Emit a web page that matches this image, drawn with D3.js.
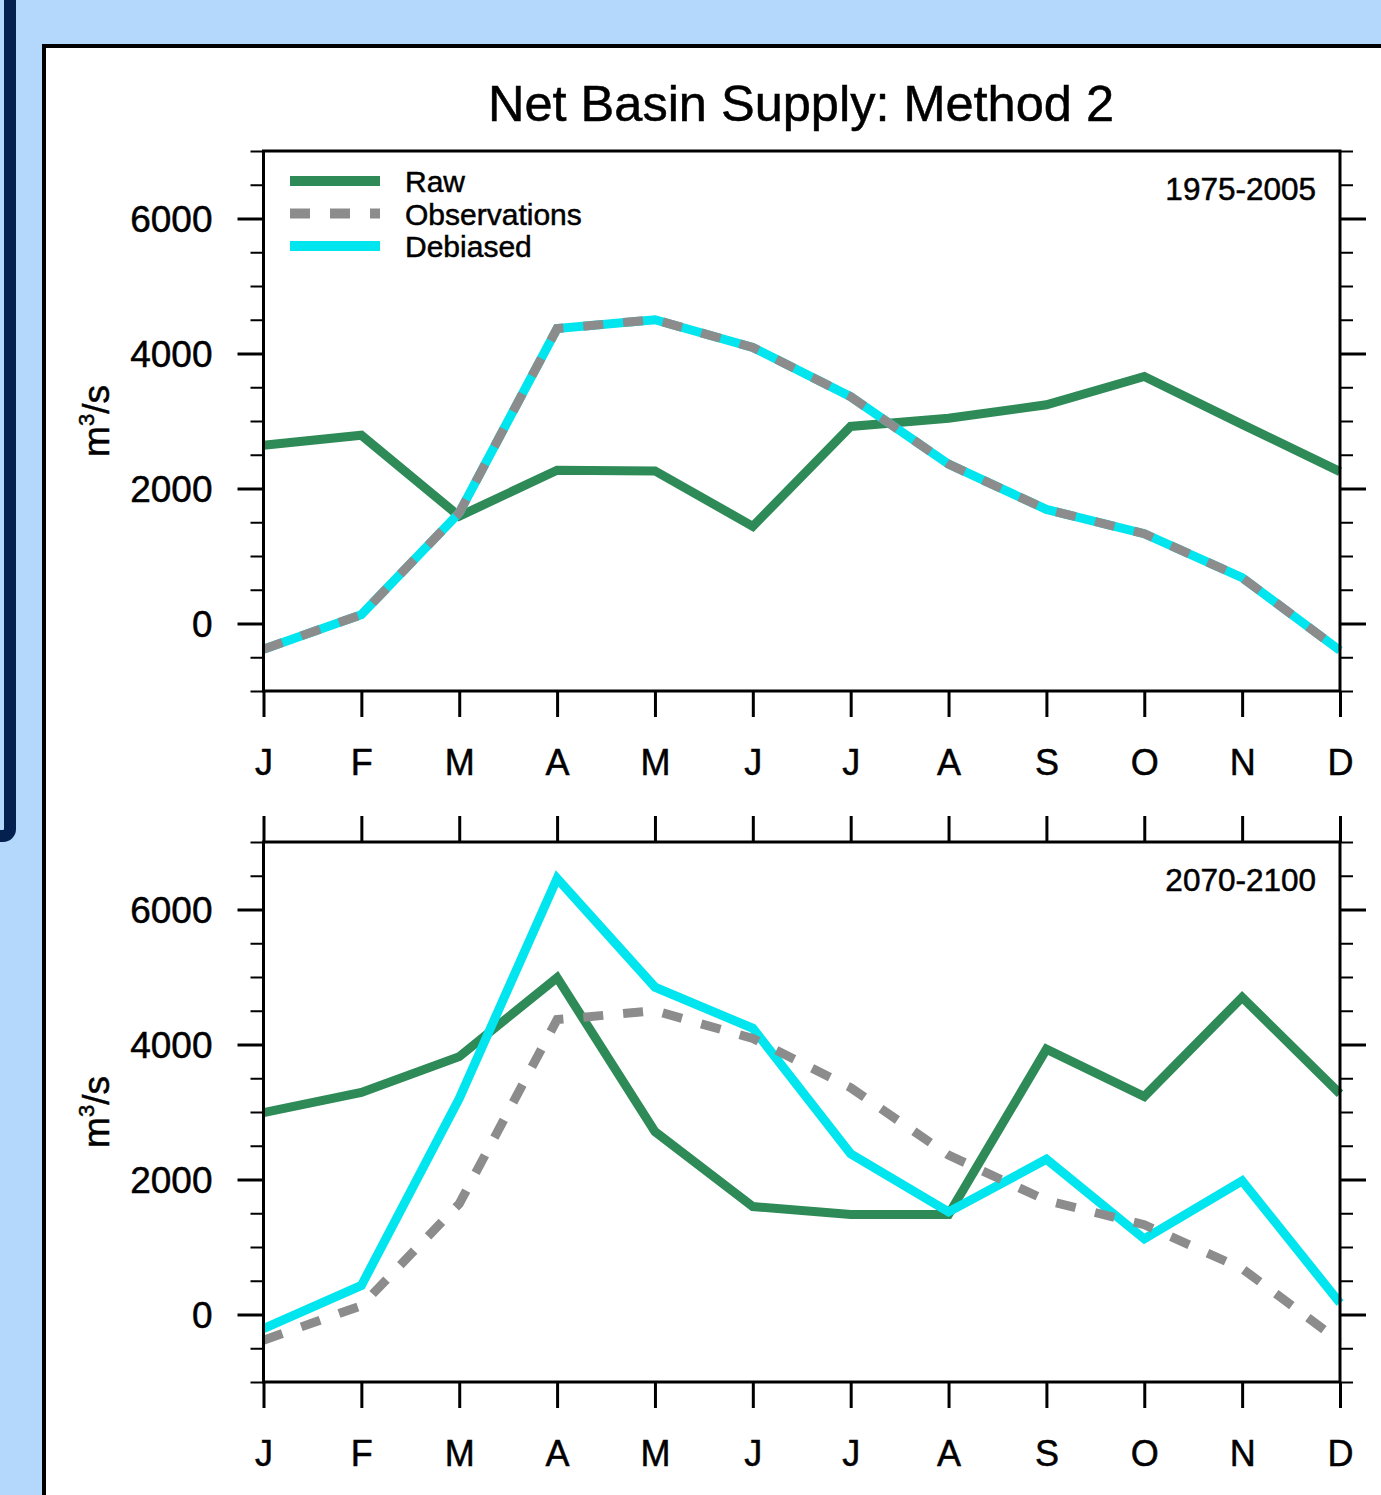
<!DOCTYPE html>
<html>
<head>
<meta charset="utf-8">
<script src="https://cdn.jsdelivr.net/npm/d3@7"></script>
<style>
  html, body { margin: 0; padding: 0; background: #b4d8fb; }
  svg { display: block; }
  text { font-family: "Liberation Sans", Arial, Helvetica, sans-serif; fill: #000; stroke: #000; stroke-width: 0.5px; }
</style>
</head>
<body>
<script>
// Monthly net basin supply (m^3/s), January..December
const months = ["J", "F", "M", "A", "M", "J", "J", "A", "S", "O", "N", "D"];

const observations = [-380, 130, 1640, 4370, 4500, 4090, 3360, 2360, 1690, 1330, 680, -400];

const rawHist      = [2640, 2790, 1590, 2270, 2260, 1440, 2920, 3040, 3240, 3660, 2950, 2250];
const debiasedHist = [-380, 130, 1640, 4370, 4500, 4090, 3360, 2360, 1690, 1330, 680, -400];

const rawFuture      = [2990, 3290, 3820, 4990, 2710, 1600, 1480, 1480, 3930, 3230, 4700, 3270];
const debiasedFuture = [-210, 430, 3200, 6460, 4850, 4240, 2380, 1520, 2300, 1120, 1980, 170];

const periods = ["1975-2005", "2070-2100"];
const seriesNames = ["Raw", "Observations", "Debiased"];
const yDomain = [-1000, 7000];
const yMajorTicks = [0, 2000, 4000, 6000];
const yMinorTicks = d3.range(-1000, 7001, 500).filter(v => !yMajorTicks.includes(v));

const colors = { Raw: "#2e8b57", Observations: "#8c8c8c", Debiased: "#00e5ee" };

const W = 1381, H = 1495;
const svg = d3.select("body").append("svg").attr("width", W).attr("height", H);

// page background and window frames
svg.append("rect").attr("width", W).attr("height", H).attr("fill", "#b4d8fb");
svg.append("rect")
  .attr("x", -100).attr("y", -100).attr("width", 110).attr("height", 936).attr("rx", 7)
  .attr("fill", "none").attr("stroke", "#04204f").attr("stroke-width", 12);
svg.append("rect")
  .attr("x", 44).attr("y", 46).attr("width", 1500).attr("height", 1600)
  .attr("fill", "#fff").attr("stroke", "#000").attr("stroke-width", 4);

// title
svg.append("text")
  .attr("x", 801).attr("y", 121)
  .attr("text-anchor", "middle")
  .attr("font-size", 50.5)
  .text("Net Basin Supply: Method 2");

const plotLeft = 263.5, plotRight = 1340, plotH = 540;
const x = d3.scaleLinear().domain([0, months.length - 1]).range([plotLeft, plotRight]);
const idx = d3.range(months.length);

function drawPanel(top, raw, debiased, obs, period, withTopTicks, withLegend) {
  const y = d3.scaleLinear().domain(yDomain).range([top + plotH, top]);
  const g = svg.append("g");

  function styleAxis(sel, w) {
    sel.select(".domain").remove();
    sel.selectAll(".tick line").attr("stroke", "#000").attr("stroke-width", w);
  }
  function styleLabels(sel, size) {
    sel.selectAll("text").attr("font-size", size).attr("fill", "#000")
      .attr("font-family", "Liberation Sans, Arial, sans-serif");
  }

  // left axis: major with labels, minor without
  g.append("g").attr("transform", `translate(${plotLeft},0)`)
    .call(d3.axisLeft(y).tickValues(yMinorTicks).tickSize(13).tickFormat(""))
    .call(s => styleAxis(s, 2));
  g.append("g").attr("transform", `translate(${plotLeft},0)`)
    .call(d3.axisLeft(y).tickValues(yMajorTicks).tickSize(26).tickPadding(25).tickFormat(d3.format("d")))
    .call(s => styleAxis(s, 3))
    .call(s => styleLabels(s, 37))
    .call(s => s.selectAll("text").attr("dy", "0.36em"));

  // right axis
  g.append("g").attr("transform", `translate(${plotRight},0)`)
    .call(d3.axisRight(y).tickValues(yMinorTicks).tickSize(13).tickFormat(""))
    .call(s => styleAxis(s, 2));
  g.append("g").attr("transform", `translate(${plotRight},0)`)
    .call(d3.axisRight(y).tickValues(yMajorTicks).tickSize(26).tickFormat(""))
    .call(s => styleAxis(s, 3));

  // bottom month axis
  g.append("g").attr("transform", `translate(0,${top + plotH})`)
    .call(d3.axisBottom(x).tickValues(idx).tickSize(26).tickPadding(32).tickFormat(i => months[i]))
    .call(s => styleAxis(s, 3))
    .call(s => styleLabels(s, 36));

  if (withTopTicks) {
    g.append("g").attr("transform", `translate(0,${top})`)
      .call(d3.axisTop(x).tickValues(idx).tickSize(26).tickFormat(""))
      .call(s => styleAxis(s, 3));
  }

  // y-axis title
  const yl = g.append("text")
    .attr("transform", `translate(109,${top + plotH / 2}) rotate(-90)`)
    .attr("text-anchor", "middle")
    .attr("font-size", 37);
  yl.append("tspan").text("m");
  yl.append("tspan").attr("dy", -15).attr("font-size", 22).text("3");
  yl.append("tspan").attr("dy", 15).text("/s");

  // data lines
  const line = d3.line().x((d, i) => x(i)).y(d => y(d));
  const plotted = [
    { name: "Raw", values: raw },
    { name: "Debiased", values: debiased },
    { name: "Observations", values: obs }
  ];
  g.selectAll("path.series").data(plotted).join("path")
    .attr("class", "series")
    .attr("d", d => line(d.values))
    .attr("fill", "none")
    .attr("stroke", d => colors[d.name])
    .attr("stroke-width", 9)
    .attr("stroke-linejoin", "miter")
    .attr("stroke-dasharray", d => d.name === "Observations" ? "20,20" : null);

  // frame
  g.append("rect")
    .attr("x", plotLeft).attr("y", top).attr("width", plotRight - plotLeft).attr("height", plotH)
    .attr("fill", "none").attr("stroke", "#000").attr("stroke-width", 3);

  // period label
  g.append("text")
    .attr("x", 1316).attr("y", top + 49)
    .attr("text-anchor", "end")
    .attr("font-size", 31.5)
    .text(period);

  if (withLegend) {
    const lg = g.append("g");
    seriesNames.forEach((name, k) => {
      const ly = top + 30 + k * 32.5;
      lg.append("line")
        .attr("x1", 290).attr("x2", 380).attr("y1", ly).attr("y2", ly)
        .attr("stroke", colors[name]).attr("stroke-width", 10)
        .attr("stroke-dasharray", name === "Observations" ? "20,20" : null);
      lg.append("text")
        .attr("x", 405).attr("y", ly + 11)
        .attr("font-size", 30)
        .text(name);
    });
  }
}

drawPanel(151, rawHist, debiasedHist, observations, periods[0], false, true);
drawPanel(842, rawFuture, debiasedFuture, observations, periods[1], true, false);
</script>
</body>
</html>
